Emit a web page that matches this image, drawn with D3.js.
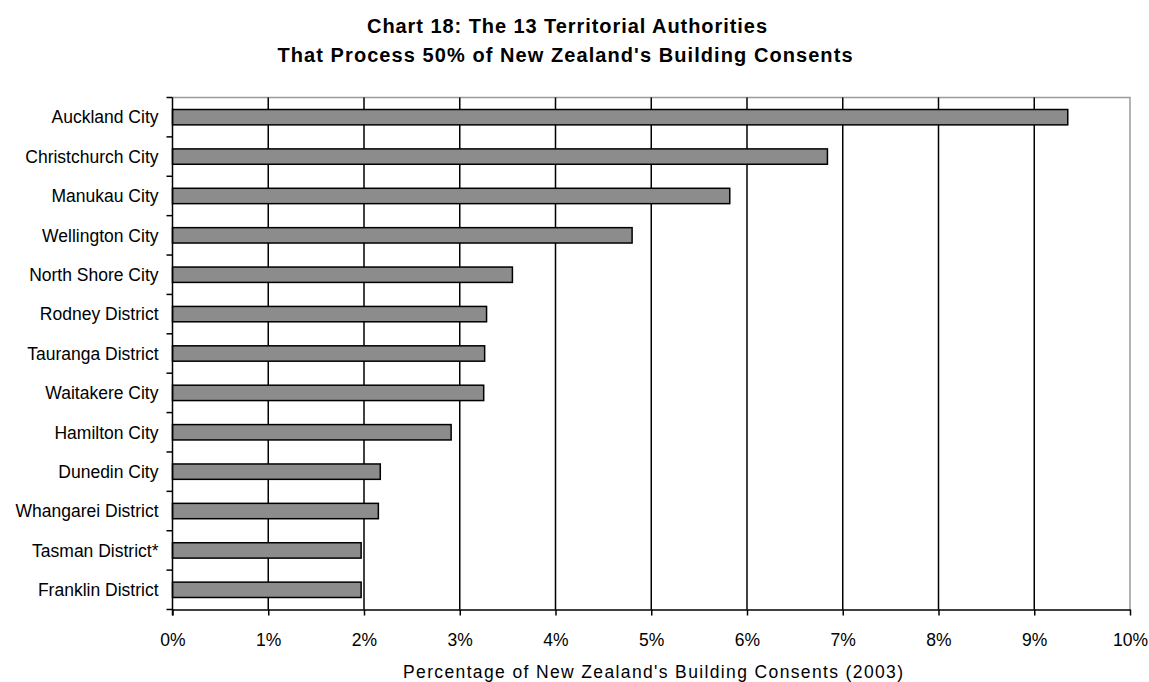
<!DOCTYPE html>
<html>
<head>
<meta charset="utf-8">
<script src="https://cdn.jsdelivr.net/npm/d3@7"></script>
<style>
  html, body { margin: 0; padding: 0; background: #fff; }
  svg { display: block; }
  text { font-family: "Liberation Sans", Arial, sans-serif; fill: #000; }
</style>
</head>
<body>
<svg id="chart" width="1149" height="682"></svg>
<script>
// Territorial authorities, largest share first
const authorities = [
  "Auckland City", "Christchurch City", "Manukau City", "Wellington City",
  "North Shore City", "Rodney District", "Tauranga District", "Waitakere City",
  "Hamilton City", "Dunedin City", "Whangarei District", "Tasman District*",
  "Franklin District"
];
// Share of New Zealand's building consents, 2003 (percent)
const consentShare = [9.35, 6.84, 5.82, 4.80, 3.55, 3.28, 3.26, 3.25, 2.91, 2.17, 2.15, 1.97, 1.97];
const xTicks = [0, 1, 2, 3, 4, 5, 6, 7, 8, 9, 10];
const titleLines = [
  "Chart 18: The 13 Territorial Authorities",
  "That Process 50% of New Zealand's Building Consents"
];
const xAxisTitle = "Percentage of New Zealand's Building Consents (2003)";

const data = authorities.map((name, i) => ({ name, value: consentShare[i] }));

const svg = d3.select("#chart");
const plot = { left: 172.5, right: 1130, top: 97.5, bottom: 609.5 };

const x = d3.scaleLinear().domain([0, 10]).range([plot.left, plot.right]);
const y = d3.scaleBand().domain(authorities).range([plot.top, plot.bottom]).paddingInner(0.61).paddingOuter(0.305);
const band = d3.scaleBand().domain(authorities).range([plot.top, plot.bottom]);

// Title, two lines, stretched letter spacing
const titleLayout = [
  { cx: 567, base: 33, width: 400 },
  { cx: 565, base: 61.5, width: 575 }
];
svg.append("g").selectAll("text").data(titleLines).join("text")
  .attr("x", (d, i) => titleLayout[i].cx)
  .attr("y", (d, i) => titleLayout[i].base)
  .attr("text-anchor", "middle")
  .attr("textLength", (d, i) => titleLayout[i].width)
  .attr("lengthAdjust", "spacing")
  .style("font-size", "20px")
  .style("font-weight", "bold")
  .text(d => d);

// Plot frame: light top and right edges
svg.append("path")
  .attr("d", `M${plot.left},${plot.top}H${plot.right}V${plot.bottom}`)
  .attr("fill", "none").attr("stroke", "#9a9a9a").attr("stroke-width", 1.5);

// Vertical gridlines
svg.append("g").selectAll("line").data(xTicks.filter(t => t > 0 && t < 10)).join("line")
  .attr("x1", d => x(d)).attr("x2", d => x(d))
  .attr("y1", plot.top).attr("y2", plot.bottom)
  .attr("stroke", "#000").attr("stroke-width", 1.5);

// Bars
svg.append("g").selectAll("rect").data(data).join("rect")
  .attr("x", x(0))
  .attr("y", d => y(d.name))
  .attr("width", d => x(d.value) - x(0))
  .attr("height", y.bandwidth())
  .attr("fill", "#8c8c8c")
  .attr("stroke", "#000").attr("stroke-width", 1.5);

// X axis
const xAxis = d3.axisBottom(x).tickValues(xTicks).tickFormat(d => d + "%").tickSize(6).tickSizeOuter(0);
const gx = svg.append("g").attr("transform", `translate(0,${plot.bottom})`).call(xAxis);
gx.select(".domain").attr("stroke", "#000").attr("stroke-width", 1.5);
gx.selectAll(".tick line").attr("stroke", "#000").attr("stroke-width", 1.5);
gx.selectAll(".tick text")
  .attr("y", 36.5).attr("dy", null)
  .style("font-size", "17.5px")
  .style("font-family", "Liberation Sans, Arial, sans-serif");

// Y axis: ticks sit on category boundaries
const gy = svg.append("g").attr("transform", `translate(${plot.left},0)`);
gy.append("line").attr("x1", 0).attr("x2", 0).attr("y1", plot.top).attr("y2", plot.bottom + 6)
  .attr("stroke", "#000").attr("stroke-width", 1.5);
const boundaries = authorities.map(a => band(a)).concat([plot.bottom]);
gy.selectAll("line.tick").data(boundaries).join("line").attr("class", "tick")
  .attr("x1", -6).attr("x2", 0).attr("y1", d => d).attr("y2", d => d)
  .attr("stroke", "#000").attr("stroke-width", 1.5);
gy.selectAll("text").data(authorities).join("text")
  .attr("x", -14)
  .attr("y", d => band(d) + band.bandwidth() / 2)
  .attr("dy", "0.36em")
  .attr("text-anchor", "end")
  .style("font-size", "17.5px")
  .text(d => d);

// X axis title
svg.append("text")
  .attr("x", 653).attr("y", 678)
  .attr("text-anchor", "middle")
  .attr("textLength", 500)
  .attr("lengthAdjust", "spacing")
  .style("font-size", "17.5px")
  .text(xAxisTitle);
</script>
</body>
</html>
